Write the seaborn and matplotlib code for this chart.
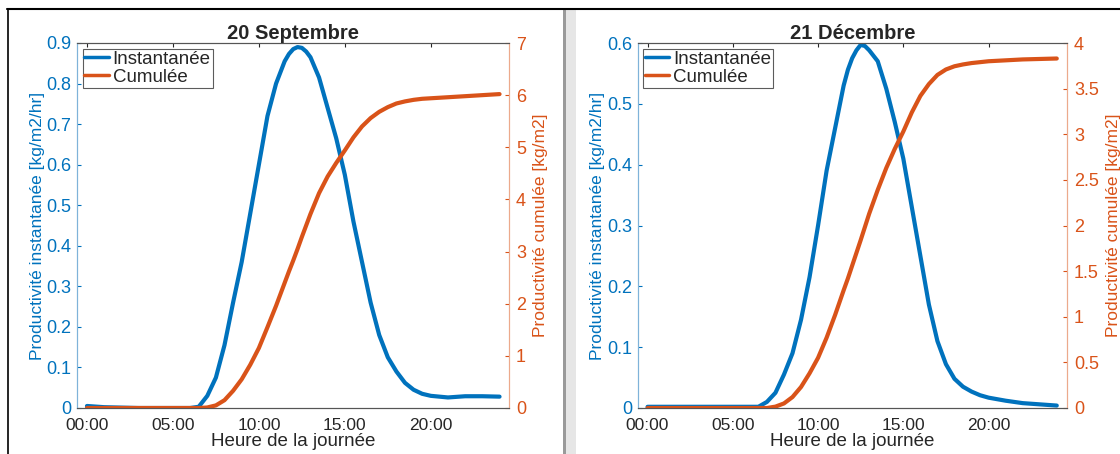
import numpy as np
import pandas as pd
import seaborn as sns
import matplotlib.pyplot as plt
from matplotlib.patches import Rectangle
from matplotlib.lines import Line2D

# heures de la journee (lecture sur la figure)
heures = [0, 1, 2, 3, 4, 5, 6, 6.5, 7, 7.5, 8, 8.5, 9, 9.5, 10, 10.5, 11, 11.5, 11.75, 12,
          12.25, 12.5, 12.75, 13, 13.5, 14, 14.5, 15, 15.5, 16, 16.5, 17, 17.5, 18, 18.5,
          19, 19.5, 20, 21, 22, 23, 24]

# 20 septembre
sep_inst = [0.005, 0.002, 0.001, 0.0, 0.0, 0.0, 0.0, 0.003, 0.03, 0.075, 0.155, 0.26, 0.36,
            0.48, 0.60, 0.72, 0.80, 0.855, 0.873, 0.885, 0.89, 0.888, 0.879, 0.865, 0.815,
            0.74, 0.665, 0.575, 0.46, 0.36, 0.26, 0.18, 0.125, 0.09, 0.062, 0.045, 0.035,
            0.03, 0.026, 0.029, 0.029, 0.028]
sep_cumul = [0.0, 0.0, 0.0, 0.0, 0.0, 0.0, 0.0, 0.0, 0.01, 0.05, 0.15, 0.33, 0.55, 0.83,
             1.15, 1.55, 1.96, 2.40, 2.62, 2.83, 3.05, 3.28, 3.50, 3.72, 4.12, 4.44, 4.70,
             4.94, 5.19, 5.40, 5.56, 5.68, 5.77, 5.84, 5.88, 5.91, 5.93, 5.94, 5.96, 5.98,
             6.00, 6.02]

# 21 decembre
dec_inst = [0.002, 0.002, 0.002, 0.002, 0.002, 0.002, 0.002, 0.002, 0.01, 0.025, 0.055,
            0.09, 0.145, 0.215, 0.30, 0.39, 0.46, 0.53, 0.556, 0.575, 0.588, 0.597, 0.595,
            0.588, 0.57, 0.525, 0.47, 0.41, 0.33, 0.25, 0.17, 0.11, 0.072, 0.048, 0.035,
            0.027, 0.021, 0.017, 0.012, 0.008, 0.006, 0.004]
dec_cumul = [0.0, 0.0, 0.0, 0.0, 0.0, 0.0, 0.0, 0.0, 0.0, 0.015, 0.05, 0.12, 0.23, 0.38,
             0.55, 0.77, 1.02, 1.29, 1.42, 1.56, 1.70, 1.84, 1.985, 2.13, 2.39, 2.63, 2.84,
             3.03, 3.24, 3.42, 3.55, 3.65, 3.71, 3.745, 3.765, 3.78, 3.79, 3.80, 3.81, 3.82,
             3.825, 3.83]

titres = ["20 Septembre", "21 Décembre"]
xticks = [0, 5, 10, 15, 20]
xticklabels = ["00:00", "05:00", "10:00", "15:00", "20:00"]

bleu = "#0072BD"
orange = "#D95319"
gris = "#262626"

sns.set_style("white")
plt.rcParams["font.family"] = ["Liberation Sans", "DejaVu Sans"]

fig = plt.figure(figsize=(11.2, 4.54), dpi=100)

# bords de la capture d'ecran
fig.add_artist(Line2D([7 / 1120, 1], [1 - 9 / 454] * 2, color="black", lw=1.5))
fig.add_artist(Line2D([7.5 / 1120] * 2, [0, 1 - 9 / 454], color="black", lw=1.2))
fig.add_artist(Rectangle((563 / 1120, 0), 13 / 1120, 1 - 10 / 454, color="#e6e6e6", lw=0))
fig.add_artist(Rectangle((563 / 1120, 0), 3 / 1120, 1 - 10 / 454, color="#9a9a9a", lw=0))

bas = 1 - 408 / 454
haut = (408 - 43) / 454
panneaux = [
    ([77 / 1120, bas, 432 / 1120, haut], (-0.58, 24.55), sep_inst, sep_cumul,
     (0, 0.9), np.arange(0, 0.91, 0.1), (0, 7), range(0, 8)),
    ([637.5 / 1120, bas, 429.5 / 1120, haut], (-0.59, 24.6), dec_inst, dec_cumul,
     (0, 0.6), np.arange(0, 0.61, 0.1), (0, 4), np.arange(0, 4.1, 0.5)),
]

for i, (pos, xlim, inst, cumul, ylim1, yt1, ylim2, yt2) in enumerate(panneaux):
    df = pd.DataFrame({"heure": heures, "inst": inst, "cumul": cumul})
    ax = fig.add_axes(pos)
    ax2 = ax.twinx()
    sns.lineplot(data=df, x="heure", y="inst", ax=ax, color=bleu, lw=3, label="Instantanée", legend=False)
    sns.lineplot(data=df, x="heure", y="cumul", ax=ax2, color=orange, lw=3, label="Cumulée", legend=False)

    ax.set_xlim(*xlim)
    ax.set_ylim(*ylim1)
    ax2.set_ylim(*ylim2)
    ax.set_yticks(yt1)
    ax.set_yticklabels(["0" if v == 0 else f"{v:g}" for v in yt1])
    ax2.set_yticks(list(yt2))
    ax2.set_yticklabels([f"{v:g}" for v in yt2])
    ax.set_xticks(xticks)
    ax.set_xticklabels(xticklabels)

    ax.set_title(titres[i], fontsize=14.5, fontweight="bold", pad=3)
    ax.set_xlabel("Heure de la journée", fontsize=13.5, color=gris, labelpad=0)
    ax.set_ylabel("Productivité instantanée [kg/m2/hr]", fontsize=12.5, color=bleu, labelpad=1)
    ax2.set_ylabel("Productivité cumulée [kg/m2]", fontsize=12.5, color=orange, labelpad=5)

    ax.tick_params(axis="x", direction="in", length=3, colors=gris, labelsize=12.5, top=True, pad=7)
    ax.tick_params(axis="y", direction="in", length=3, colors=bleu, labelsize=13, pad=4)
    ax2.tick_params(axis="y", direction="in", length=3, colors=orange, labelsize=13, pad=5)

    for a in (ax, ax2):
        a.spines["top"].set_color("#555555")
        a.spines["bottom"].set_color("#555555")
        a.spines["left"].set_color("#7fb3d9")
        a.spines["right"].set_color("#ecaa8c")
        for s in a.spines.values():
            s.set_linewidth(0.8)

    h1, l1 = ax.get_legend_handles_labels()
    h2, l2 = ax2.get_legend_handles_labels()
    leg = ax2.legend(h1 + h2, l1 + l2, loc="upper left", fontsize=13.5, frameon=True,
                     fancybox=False, handlelength=1.3, handletextpad=0.2,
                     borderaxespad=0.3, borderpad=0.1, labelspacing=0.05)
    for ln in leg.get_lines():
        ln.set_linewidth(2.5)
    leg.get_frame().set_edgecolor("#333333")
    leg.get_frame().set_linewidth(0.8)

fig.savefig("out.png", dpi=100)
